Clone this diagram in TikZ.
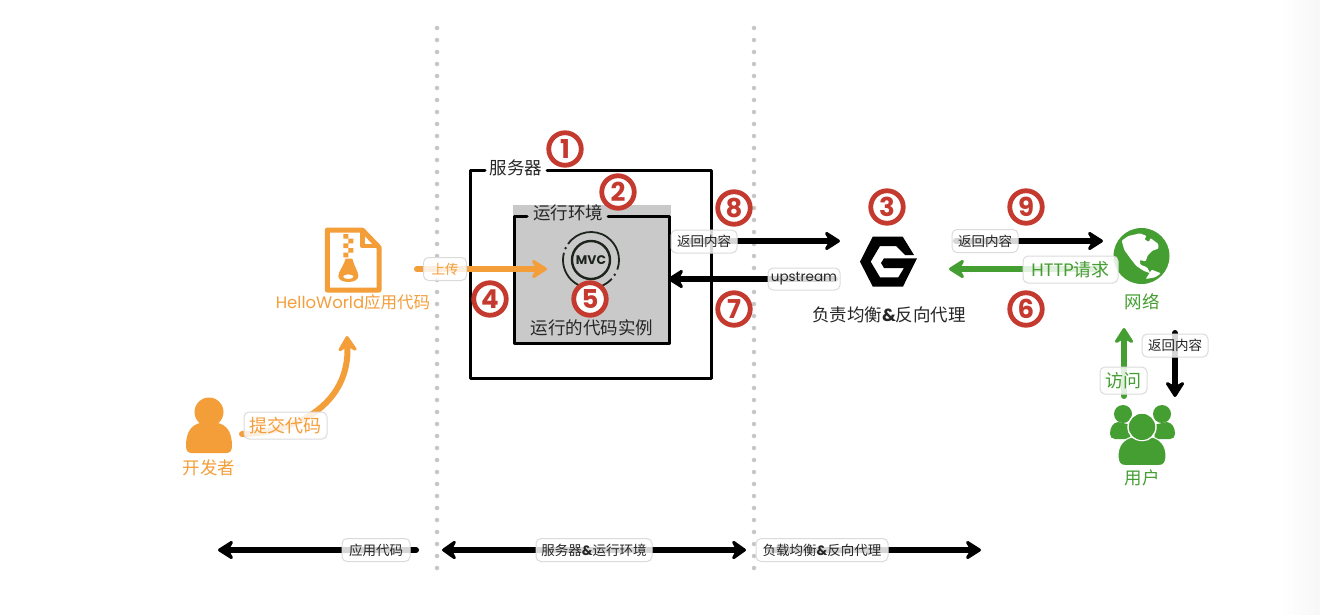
\documentclass[tikz,border=0pt]{standalone}
\usepackage{fontspec}
\setmainfont{Noto Sans CJK SC}
\newfontfamily\latinf{Poppins}
\usetikzlibrary{arrows.meta}
\definecolor{oc}{HTML}{F49E3A}
\definecolor{gc}{HTML}{459E32}
\definecolor{rc}{HTML}{C53A2F}
\definecolor{dotc}{HTML}{C6C6C6}
\definecolor{panelc}{HTML}{C9C9C9}
\definecolor{inkc}{HTML}{1C241C}
\newcommand{\fs}[1]{\fontsize{#1}{#1}\selectfont}
\tikzset{
  numbadge/.style={circle,draw=rc,line width=4.8pt,fill=white,text=rc,minimum size=32.5pt,inner sep=0pt,font=\fs{26}\latinf\bfseries},
  pill/.style={rounded corners=5pt,draw=black!14,line width=1pt,fill=white,fill opacity=.84,text opacity=1,inner sep=0pt,align=center},
  smallpill/.style={pill,font=\fs{13.5},text=black!85},
  bigpill/.style={pill,font=\fs{18}},
  arrowline/.style={line width=6pt,line cap=round,-{Stealth[round,length=19pt,width=24pt,inset=7pt]}},
  twoway/.style={line width=6pt,line cap=round,{Stealth[round,length=17pt,width=24pt,inset=6pt]}-{Stealth[round,length=17pt,width=24pt,inset=6pt]}},
  divider/.style={draw=dotc,line width=4.5pt,line cap=round,dash pattern=on 0pt off 12pt},
  framewire/.style={draw=black,line width=3pt,line join=round,line cap=round},
  caption/.style={font=\fs{17.5},text=black!85,inner sep=0pt},
}
\begin{document}
\begin{tikzpicture}[x=1pt,y=-1pt]
\useasboundingbox (0,0) rectangle (1320,614);
\fill[white] (0,0) rectangle (1320,614);
\shade[left color=white,right color=black!3,draw=none] (1280,0) rectangle (1320,614);

% dividers
\coordinate (d1a) at (437,28); \coordinate (d1b) at (437,569);
\coordinate (d2a) at (754,28); \coordinate (d2b) at (754,569);
\draw[divider] (d1a) -- (d1b);
\draw[divider] (d2a) -- (d2b);

% server frame
\coordinate (s1) at (485,170); \coordinate (s2) at (470,170); \coordinate (s3) at (470,378);
\coordinate (s4) at (711,378); \coordinate (s5) at (711,170); \coordinate (s6) at (547,170);
\draw[framewire] (s1) -- (s2) -- (s3) -- (s4) -- (s5) -- (s6);
\node[caption] (server) at (516,168) {服务器};

% runtime panel
\fill[panelc] (513,205) rectangle (671,345);
\coordinate (r1) at (527,216); \coordinate (r2) at (514,216); \coordinate (r3) at (514,343);
\coordinate (r4) at (669,343); \coordinate (r5) at (669,216); \coordinate (r6) at (608,216);
\draw[framewire] (r1) -- (r2) -- (r3) -- (r4) -- (r5) -- (r6);
\node[caption] (runtime) at (568,213) {运行环境};
\node[caption] (instance) at (592,328) {运行的代码实例};

% MVC icon
\begin{scope}[shift={(591,260)},yscale=-1]
  \draw[inkc,line width=2.4pt] (0,0) circle[radius=19];
  \draw[inkc,line width=1.8pt] (145:28) arc[start angle=145,end angle=-20,radius=28];
  \draw[inkc,line width=1.8pt] (-42:28) arc[start angle=-42,end angle=-100,radius=28];
  \draw[inkc,line width=1.8pt] (165:28) arc[start angle=165,end angle=260,radius=28];
  \fill[inkc] (155:28) circle[radius=1.4];
  \fill[inkc] (-32:28) circle[radius=1.4];
\end{scope}
\node[font=\fs{12.5}\latinf\bfseries,text=inkc,inner sep=0pt] (mvc) at (591,260) {MVC};

% file icon
\begin{scope}[shift={(315,220)},scale=1/3]
  \draw[oc,line width=5pt,line join=round] (37,30) -- (142,30) -- (192,82) -- (192,210) -- (37,210) -- cycle;
  \draw[oc,line width=4.5pt,line join=round] (142,30) -- (142,78) -- (192,78);
  \fill[oc] (85,42) rectangle (100,56) (100,56) rectangle (115,70) (85,70) rectangle (100,84) (100,84) rectangle (115,98) (85,98) rectangle (100,112);
  \fill[oc,even odd rule] (92,116) -- (112,116) .. controls (118,140) and (130,155) .. (130,168) .. controls (130,180) and (115,186) .. (100,186) .. controls (85,186) and (70,180) .. (70,168) .. controls (70,155) and (85,140) .. (92,116) -- cycle (116,170) arc[start angle=0,end angle=360,x radius=16,y radius=7];
\end{scope}
\node[font=\fs{16.5},text=oc,inner sep=0pt] (app) at (353,302) {{\latinf HelloWorld}应用代码};

% developer icon
\fill[oc] (209,412) circle[radius=14.5];
\fill[oc] (186,446) .. controls (186,431) and (192,425) .. (200,423) .. controls (205,427) and (213,427) .. (218,423) .. controls (226,425) and (232,431) .. (232,446) .. controls (232,451) and (230,453) .. (226,453) -- (192,453) .. controls (188,453) and (186,451) .. (186,446) -- cycle;
\node[font=\fs{17.5},text=oc,inner sep=0pt] (dev) at (209,468) {开发者};

% nginx icon
\fill[black,line join=round] (872.7,236.7) -- (902.7,236.7) -- (914,255) -- (905,255) -- (896,246) -- (880,246) -- (870.7,261.7) -- (880,277.3) -- (898.3,277.3) -- (904,268) -- (884,268) -- (881,263) -- (884,258.3) -- (917,258.3) -- (903,286.5) -- (872.7,286.5) -- (860,261.7) -- cycle;
\node[caption] (lb) at (889,315) {负责均衡{\latinf\bfseries\&}反向代理};

% globe icon
\fill[gc] (1141.5,256) circle[radius=28];
\begin{scope}[shift={(1105,220)},scale=1/3]
  \fill[white,rounded corners=1pt] (50,62) -- (70,48) -- (105,40) -- (125,48) -- (118,58) -- (132,66) -- (136,54) -- (160,72) -- (160,86) -- (142,92) -- (128,106) -- (122,124) -- (104,120) -- (106,134) -- (126,142) -- (136,160) -- (115,152) -- (93,137) -- (76,115) -- (58,90) -- cycle;
  \fill[white,rounded corners=1pt] (122,177) -- (140,149) -- (168,160) -- (150,172) -- cycle;
\end{scope}
\node[font=\fs{17.5},text=gc,inner sep=0pt] (net) at (1142,302) {网络};

% users icon
\fill[gc] (1123,414) circle[radius=9] (1162,414) circle[radius=9];
\fill[gc] (1110,434) .. controls (1110,427) and (1113,423) .. (1118,422) -- (1132,425) -- (1130,439) -- (1115,439) .. controls (1112,439) and (1110,437) .. (1110,434) -- cycle;
\fill[gc] (1175,434) .. controls (1175,427) and (1172,423) .. (1167,422) -- (1153,425) -- (1155,439) -- (1170,439) .. controls (1173,439) and (1175,437) .. (1175,434) -- cycle;
\fill[gc,draw=white,line width=1.4pt] (1142,427) circle[radius=14];
\fill[gc,draw=white,line width=1pt] (1118,456) .. controls (1118,445) and (1124,439) .. (1132,437) .. controls (1138,442) and (1147,442) .. (1152,437) .. controls (1160,439) and (1166,445) .. (1166,456) .. controls (1166,462) and (1164,465.5) .. (1159,465.5) -- (1125,465.5) .. controls (1120,465.5) and (1118,462) .. (1118,456) -- cycle;
\node[font=\fs{17.5},text=gc,inner sep=0pt] (users) at (1142,478) {用户};

% connectors
\coordinate (upS) at (417,269); \coordinate (upE) at (547,269);
\draw[arrowline,oc] (upS) -- (upE);
\node[smallpill,text=oc,minimum width=43pt,minimum height=23pt] (upL) at (445,269) {上传};

\coordinate (sS) at (242,434); \coordinate (sE) at (347,336);
\draw[arrowline,oc] (sS) .. controls (295,433) and (350,405) .. (sE);
\node[bigpill,text=oc,minimum width=83pt,minimum height=27pt] (sL) at (285.5,425.5) {提交代码};

\coordinate (bS) at (690,241); \coordinate (bE) at (840,241);
\draw[arrowline,black] (bS) -- (bE);
\node[smallpill,minimum width=66pt,minimum height=23pt] (bL) at (704,241.5) {返回内容};

\coordinate (uS) at (835,279); \coordinate (uE) at (668,279);
\draw[arrowline,black] (uS) -- (uE);
\node[smallpill,minimum width=72pt,minimum height=22pt] (uL) at (804,279) {\latinf upstream};

\coordinate (nS) at (956,241); \coordinate (nE) at (1103,241);
\draw[arrowline,black] (nS) -- (nE);
\node[smallpill,minimum width=66pt,minimum height=23pt] (nL) at (985,241) {返回内容};

\coordinate (hS) at (1100,269); \coordinate (hE) at (949,269);
\draw[arrowline,gc] (hS) -- (hE);
\node[bigpill,text=gc,minimum width=95pt,minimum height=27pt] (hL) at (1070.5,269.5) {{\latinf HTTP}请求};

\coordinate (vS) at (1124,396); \coordinate (vE) at (1124,328);
\draw[arrowline,gc] (vS) -- (vE);
\node[bigpill,text=gc,minimum width=47pt,minimum height=27pt] (vL) at (1123.5,380.5) {访问};

\coordinate (dS) at (1175,333); \coordinate (dE) at (1175,397);
\draw[arrowline,black] (dS) -- (dE);
\node[smallpill,minimum width=66pt,minimum height=23pt] (dL) at (1175,345.5) {返回内容};

% bottom scale
\coordinate (a1) at (416,550); \coordinate (a2) at (218,550);
\draw[arrowline,black] (a1) -- (a2);
\node[smallpill,minimum width=68pt,minimum height=23pt] (aL) at (376,550) {应用代码};

\coordinate (b1) at (442,550); \coordinate (b2) at (746,550);
\draw[twoway,black] (b1) -- (b2);
\node[smallpill,minimum width=116pt,minimum height=23pt] (bbL) at (594,550) {服务器{\latinf\bfseries\&}运行环境};

\coordinate (c1) at (770,550); \coordinate (c2) at (981,550);
\draw[arrowline,black] (c1) -- (c2);
\node[smallpill,minimum width=132pt,minimum height=23pt] (cL) at (822,550) {负载均衡{\latinf\bfseries\&}反向代理};

% numbered badges
\node[numbadge] (n1) at (565,149) {1};
\node[numbadge] (n2) at (618,192) {2};
\node[numbadge] (n3) at (887,207) {3};
\node[numbadge] (n4) at (490,299) {4};
\node[numbadge] (n5) at (590,299) {5};
\node[numbadge] (n6) at (1026,309) {6};
\node[numbadge] (n7) at (734,309) {7};
\node[numbadge] (n8) at (734,208) {8};
\node[numbadge] (n9) at (1026,207) {9};
\end{tikzpicture}
\end{document}
